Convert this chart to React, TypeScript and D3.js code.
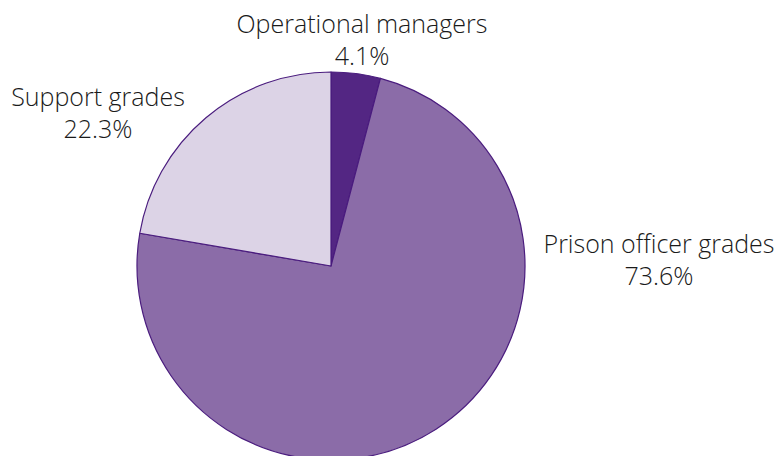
import React from "react";
import * as d3 from "d3";

const categories = ["Operational managers", "Prison officer grades", "Support grades"];
const values = [4.1, 73.6, 22.3];
const labels = ["4.1%", "73.6%", "22.3%"];
const colors = ["#532683", "#8b6ca8", "#dcd3e6"];
const labelPos: [number, number][] = [
  [362, 33],
  [659, 253],
  [98, 106],
];

export default function App() {
  const W = 779, H = 456;
  const cx = 331, cy = 266, r = 194;
  const pie = d3.pie<number>().sort(null).value((d) => d);
  const arcs = pie(values);
  const arc = d3.arc<d3.PieArcDatum<number>>().innerRadius(0).outerRadius(r);
  return (
    <svg width={W} height={H} style={{ position: "absolute", left: 0, top: 0, background: "#fff" }}
      fontFamily="'Open Sans', 'Noto Sans', sans-serif">
      <g transform={`translate(${cx},${cy})`}>
        {arcs.map((a, i) => (
          <path key={i} d={arc(a) || ""} fill={colors[i]} stroke="#4a1c7e" strokeWidth={1.2} strokeLinejoin="round" />
        ))}
      </g>
      {categories.map((c, i) => (
        <text key={c} x={labelPos[i][0]} y={labelPos[i][1]} textAnchor="middle" fontSize={25} fontWeight={300} fill="#1a1a1a">
          <tspan x={labelPos[i][0]} dy={0}>{c}</tspan>
          <tspan x={labelPos[i][0]} dy={32}>{labels[i]}</tspan>
        </text>
      ))}
    </svg>
  );
}
